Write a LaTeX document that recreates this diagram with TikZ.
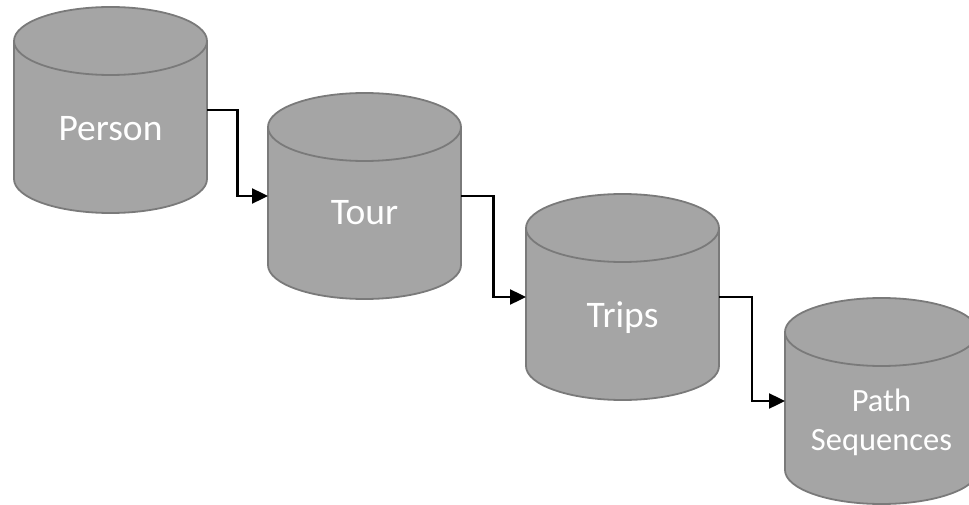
\documentclass[tikz,border=0pt]{standalone}
\usepackage{fontspec}
\newfontfamily\canfont{Carlito}
\usetikzlibrary{calc,arrows.meta}

\definecolor{canfill}{HTML}{A5A5A5}
\definecolor{canedge}{HTML}{7A7A7A}

% one storage drum: #1 name, #2 left edge, #3 top edge
\newcommand\drumshape[3]{%
  \node[canbox] (#1) at ({#2+96.5},{#3+103}) {};
  \draw[canline] ($(#1.north west)+(0,34)$) -- ++(0,138)
     arc[start angle=180,end angle=360,x radius=96.5pt,y radius=34pt]
     -- ++(0,-138)
     arc[start angle=0,end angle=180,x radius=96.5pt,y radius=34pt] -- cycle;
  \draw[canrim] ($(#1.north west)+(0,34)$)
     arc[start angle=180,end angle=360,x radius=96.5pt,y radius=34pt];
}

\tikzset{
  canbox/.style={rectangle,minimum width=193pt,minimum height=206pt,
    inner sep=0pt,outer sep=0pt},
  canline/.style={draw=canedge,fill=canfill,line width=1.8pt,line join=round},
  canrim/.style={draw=canedge,line width=1.8pt},
  cantext/.style={text=white,font=\canfont\fontsize{37.5}{44}\selectfont,
    inner sep=0pt,anchor=base},
  smalltext/.style={text=white,font=\canfont\fontsize{32.5}{39}\selectfont,
    inner sep=0pt,anchor=base},
  flow/.style={draw=black,line width=2.4pt,-{Triangle[length=16pt,width=15pt]}},
  elbow/.style={to path={-| ($(\tikztostart)!0.5!(\tikztotarget)$) |- (\tikztotarget)}}
}

\begin{document}
\begin{tikzpicture}[x=1pt,y=-1pt]
  \useasboundingbox (0,0) rectangle (969,505);
  \clip (0,0) rectangle (969,505);

  \drumshape{person}{14}{7}
  \drumshape{tour}{268}{93}
  \drumshape{trips}{526}{194}
  \drumshape{paths}{785}{298}

  \node[cantext] (person-text) at (110.5,141) {Person};
  \node[cantext] (tour-text) at (364.5,225) {Tour};
  \node[cantext] (trips-text) at (622.5,327) {Trips};
  \node[smalltext] (paths-text1) at (881.5,411) {Path};
  \node[smalltext] (paths-text2) at (881.5,450) {Sequences};

  \draw[flow] (person.east) to[elbow] (tour.west);
  \draw[flow] (tour.east) to[elbow] (trips.west);
  \draw[flow] (trips.east) to[elbow] (paths.west);
\end{tikzpicture}
\end{document}
